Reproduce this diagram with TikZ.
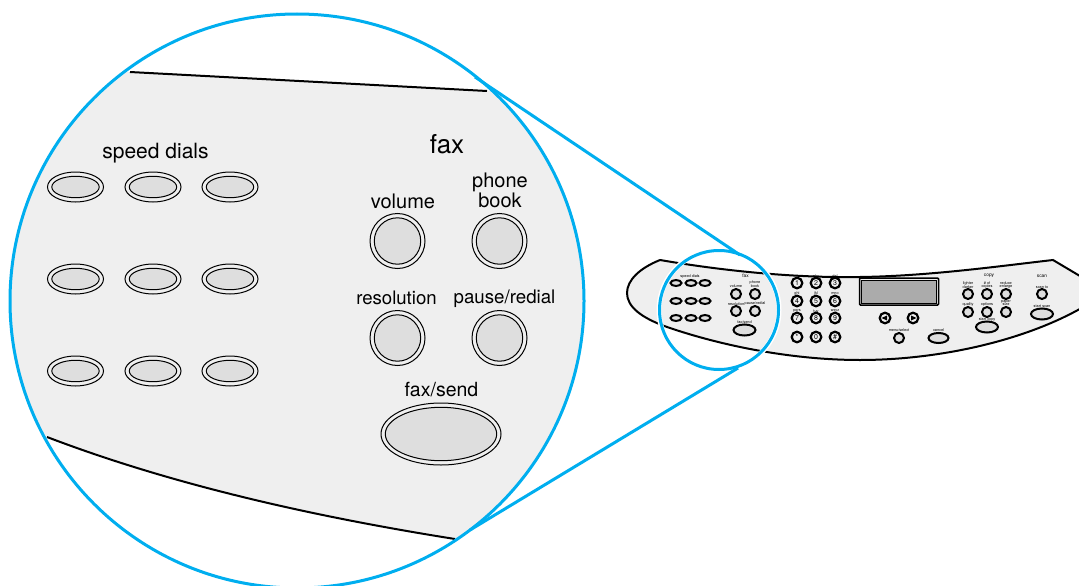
\documentclass[tikz,border=0pt]{standalone}
\usepackage{fontspec}
\setmainfont{TeX Gyre Heros}
\definecolor{lensblue}{HTML}{00AEEF}
\definecolor{panelgray}{HTML}{EFEFEF}
\definecolor{btngray}{HTML}{DEDEDE}
\definecolor{lcdgray}{HTML}{ABABAB}
\tikzset{
  biglabel/.style={inner sep=0pt,font=\fontsize{20}{20}\selectfont,align=center,text=black},
  tiny/.style={inner sep=0pt,font=\fontsize{3.8}{3.9}\selectfont,align=center,text=black},
  keydigit/.style={inner sep=0pt,font=\fontsize{7}{7}\selectfont,text=black},
  hair/.style={draw=black,line width=1pt},
  btnline/.style={draw=black,line width=2pt,fill=btngray},
  lensline/.style={draw=lensblue,line width=3pt},
  edgeline/.style={draw=black,line width=2pt}
}
\newcommand{\bigoval}[4]{\draw[hair,fill=panelgray] (#1,#2) ellipse [x radius=#3,y radius=#4];
  \draw[hair,fill=btngray] (#1,#2) ellipse [x radius=#3-4.3,y radius=#4-4.3];}
\newcommand{\smalloval}[4]{\draw[btnline] (#1,#2) ellipse [x radius=#3,y radius=#4];}
\begin{document}
\begin{tikzpicture}[x=1pt,y=-1pt]
\useasboundingbox (0,0) rectangle (1079,586);
% ---- small panel
\begin{scope}
\clip (0,0) rectangle (1079,586);
\path[fill=panelgray] (660,260) .. controls (730,272) and (800,278) .. (860,277)
  .. controls (930,276) and (1000,266) .. (1053,260) -- (1090,282) -- (1090,303)
  .. controls (1030,340) and (940,360) .. (860,360)
  .. controls (790,360) and (720,345) .. (670,328)
  .. controls (640,318) and (627,306) .. (627,293)
  .. controls (627,280) and (640,268) .. (660,260) -- cycle;
\path[edgeline] (660,260) .. controls (730,272) and (800,278) .. (860,277)
  .. controls (930,276) and (1000,266) .. (1053,260) -- (1090,282);
\path[edgeline] (1090,303)
  .. controls (1030,340) and (940,360) .. (860,360)
  .. controls (790,360) and (720,345) .. (670,328)
  .. controls (640,318) and (627,306) .. (627,293)
  .. controls (627,280) and (640,268) .. (660,260);
\end{scope}
% speed dials small
\foreach \yy in {283,301,318}\foreach \xx in {676,691,705}{\smalloval{\xx}{\yy}{5.5}{3}}
\foreach \xx/\yy in {736/294,755/294,736/311,755/311,968/294,987/294,1006/294,968/312,987/312,1006/312,1042/294,899/338}{\smalloval{\xx}{\yy}{5}{5}}
\smalloval{744.5}{330}{11}{5.5}
\smalloval{987}{327}{11}{5.5}
\smalloval{1042}{314}{11}{5.5}
\smalloval{938.5}{338}{10}{5}
% keypad
\foreach \xx/\yy/\dd in {797/283/1,816/283/2,835/283/3,797/301/4,816/301/5,835/301/6,797/318/7,816/318/8,835/318/9,797/337/*,816/337/0,835/337/\#}{
  \draw[draw=black,line width=2.2pt,fill=panelgray] (\xx,\yy) circle [radius=5.3];
  \node[keydigit] at (\xx,\yy) {\dd};}
\foreach \xx in {885,913}{\draw[draw=black,line width=2.2pt,fill=panelgray] (\xx,318) circle [radius=5.3];}
\fill (881.5,318) -- (887,315.5) -- (887,320.5) -- cycle;
\fill (916.5,318) -- (911,315.5) -- (911,320.5) -- cycle;
% display
\draw[draw=black,line width=1.5pt,fill=panelgray,rounded corners=1pt] (859.5,278) rectangle (938.5,305);
\draw[draw=black,line width=.5pt,fill=lcdgray] (861.5,280) rectangle (936.5,303);
% small labels
\node[tiny] (sSpeed) at (690,276.5) {speed dials};
\node[tiny,font=\fontsize{4.8}{4.8}\selectfont] (sFax) at (745.5,275.5) {fax};
\node[tiny] (sVol) at (736,286) {volume};
\node[tiny] (sPhone) at (755,284.5) {phone\\book};
\node[tiny] (sRes) at (736,304) {resolution};
\node[tiny] (sPause) at (755,304) {pause/redial};
\node[tiny] (sSend) at (744.5,322) {fax/send};
\node[tiny] (kAbc) at (816,276) {abc};
\node[tiny] (kDef) at (835,276) {def};
\node[tiny] (kGhi) at (797,294) {ghi};
\node[tiny] (kJkl) at (816,294) {jkl};
\node[tiny] (kMno) at (835,294) {mno};
\node[tiny] (kPqrs) at (797,311) {pqrs};
\node[tiny] (kTuv) at (816,311) {tuv};
\node[tiny] (kWxyz) at (835,311) {wxyz};
\node[tiny] (sMenu) at (899,330) {menu/select};
\node[tiny] (sCancel) at (938.5,330.5) {cancel};
\node[tiny,font=\fontsize{4.8}{4.8}\selectfont] (sCopy) at (989,276) {copy};
\node[tiny,font=\fontsize{4.8}{4.8}\selectfont] (sScan) at (1042,276) {scan};
\node[tiny] (sLight) at (968,285) {lighter\\darker};
\node[tiny] (sCopies) at (987,285) {\# of\\copies};
\node[tiny] (sReduce) at (1006,285) {reduce\\enlarge};
\node[tiny] (sQual) at (968,304.5) {quality};
\node[tiny] (sOpt) at (987,304.5) {options};
\node[tiny] (sPaper) at (1006,303) {paper\\size};
\node[tiny] (sStartC) at (987,319.5) {start copy};
\node[tiny] (sScanTo) at (1042,287) {scan to};
\node[tiny] (sStartS) at (1042,306.5) {start scan};
% ---- big lens
\begin{scope}
\clip (297,301) circle [radius=287];
\path[fill=panelgray] (130,72) -- (487,91) -- (600,97) -- (600,570) -- (455,539)
  .. controls (310,516) and (170,484) .. (47,437) -- (-20,410) -- (-20,60) -- cycle;
\draw[draw=black,line width=2pt] (130,72) -- (487,91);
\draw[draw=black,line width=2pt] (455,539) .. controls (310,516) and (170,484) .. (47,437);
\end{scope}
\node[circle,draw=white,line width=5pt,minimum size=120pt,inner sep=0pt] (smallHalo) at (719,310) {};
% ---- lens connectors
\coordinate (bigTop) at (475,77);
\coordinate (bigBot) at (470,530);
\coordinate (smallTop) at (740,255);
\coordinate (smallBot) at (738,368);
\draw[lensline] (bigTop) -- (smallTop);
\draw[lensline] (bigBot) -- (smallBot);
\draw[lensline] (719,310) circle [radius=59.5];
\draw[lensline] (297,301) circle [radius=287];
% big speed dials
\foreach \yy in {187,279,371}\foreach \xx in {75.5,153,230}{\bigoval{\xx}{\yy}{28}{15}}
\foreach \xx/\yy in {397.5/241,499.5/241,397.5/338,499.5/338}{\bigoval{\xx}{\yy}{27.5}{27.5}}
\bigoval{441}{434}{60}{31}
% big labels
\node[biglabel,font=\fontsize{21}{21}\selectfont] (bSpeed) at (155.5,153) {speed dials};
\node[biglabel,font=\fontsize{26}{26}\selectfont] (bFax) at (447,144) {fax};
\node[biglabel] (bVol) at (403,201) {volume};
\node[biglabel,font=\fontsize{20}{19.5}\selectfont] (bPhone) at (500,190.5) {phone\\book};
\node[biglabel,font=\fontsize{18.6}{18.6}\selectfont] (bRes) at (396.5,298) {resolution};
\node[biglabel,font=\fontsize{18.7}{18.7}\selectfont] (bPause) at (504.5,298.5) {pause/redial};
\node[biglabel,font=\fontsize{19.5}{19.5}\selectfont] (bSend) at (441.5,390) {fax/send};
\end{tikzpicture}
\end{document}
